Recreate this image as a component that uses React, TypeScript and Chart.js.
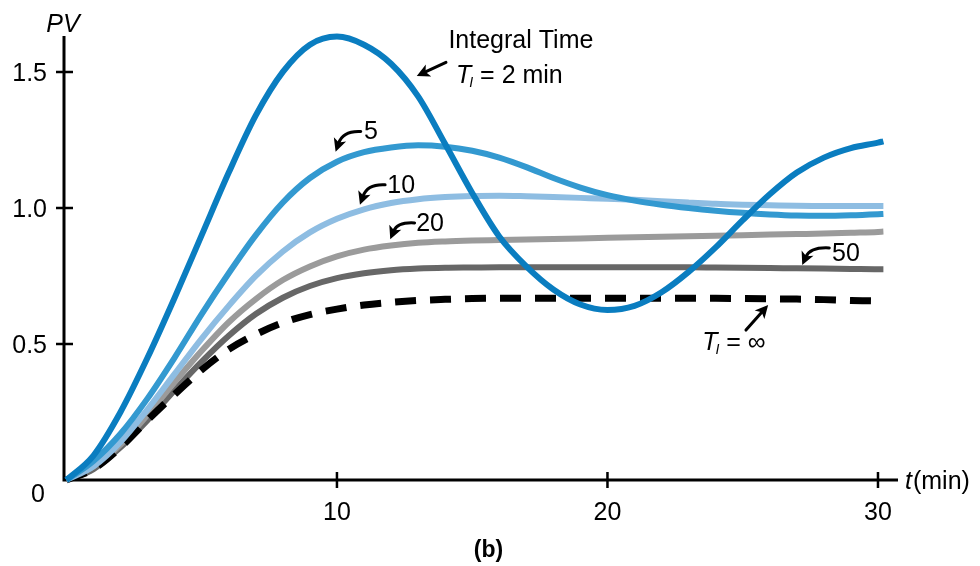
import React, { useEffect, useRef } from "react";
import { Chart, registerables } from "chart.js";

Chart.register(...registerables);

// ---- data ----
const times = [0, 1, 2, 3, 4, 5, 6, 7, 8, 9, 10, 11, 12, 13, 14, 15, 16, 17, 18, 19, 20, 21, 22, 23, 24, 25, 26, 27, 28, 29, 30, 30.2];

const pvTi2 = [0, 0.09, 0.25, 0.45, 0.67, 0.90, 1.13, 1.34, 1.50, 1.60, 1.63, 1.60, 1.53, 1.41, 1.235, 1.055, 0.895, 0.785, 0.70, 0.645, 0.625, 0.64, 0.69, 0.765, 0.855, 0.955, 1.05, 1.13, 1.185, 1.22, 1.24, 1.245];
const pvTi5 = [0, 0.07, 0.17, 0.30, 0.45, 0.61, 0.76, 0.90, 1.02, 1.11, 1.17, 1.205, 1.222, 1.23, 1.225, 1.21, 1.185, 1.15, 1.11, 1.075, 1.047, 1.027, 1.012, 1.0, 0.99, 0.982, 0.976, 0.972, 0.971, 0.973, 0.977, 0.978];
const pvTi10 = [0, 0.05, 0.14, 0.26, 0.39, 0.52, 0.64, 0.75, 0.84, 0.91, 0.96, 0.995, 1.018, 1.032, 1.04, 1.044, 1.045, 1.043, 1.04, 1.037, 1.034, 1.03, 1.025, 1.02, 1.015, 1.012, 1.01, 1.008, 1.007, 1.007, 1.007, 1.007];
const pvTi20 = [0, 0.05, 0.13, 0.24, 0.36, 0.475, 0.58, 0.665, 0.735, 0.785, 0.822, 0.847, 0.862, 0.872, 0.877, 0.88, 0.882, 0.884, 0.886, 0.888, 0.89, 0.892, 0.894, 0.896, 0.898, 0.9, 0.902, 0.904, 0.906, 0.909, 0.912, 0.913];
const pvTi50 = [0, 0.04, 0.12, 0.22, 0.33, 0.435, 0.53, 0.61, 0.67, 0.713, 0.742, 0.76, 0.771, 0.777, 0.78, 0.781, 0.782, 0.782, 0.782, 0.782, 0.782, 0.782, 0.782, 0.782, 0.781, 0.78, 0.779, 0.778, 0.777, 0.776, 0.775, 0.775];
const pvTiInf = [0, 0.04, 0.12, 0.22, 0.315, 0.405, 0.48, 0.535, 0.578, 0.608, 0.628, 0.643, 0.653, 0.66, 0.664, 0.667, 0.668, 0.668, 0.668, 0.668, 0.668, 0.668, 0.668, 0.668, 0.668, 0.667, 0.666, 0.665, 0.663, 0.66, 0.658, 0.657];

const xTicks = [10, 20, 30];
const xTickLabels = ["10", "20", "30"];
const yTicks = [0.5, 1.0, 1.5];
const yTickLabels = ["0.5", "1.0", "1.5"];

const FONT = '"Liberation Sans", Arial, Helvetica, sans-serif';
const FS = 25;

function pts(values: number[]) {
  return values.map((v, i) => ({ x: times[i], y: v }));
}

function head(ctx: CanvasRenderingContext2D, x: number, y: number, ang: number) {
  const len = 13;
  const half = 6.5;
  ctx.save();
  ctx.translate(x, y);
  ctx.rotate(ang);
  ctx.beginPath();
  ctx.moveTo(0, 0);
  ctx.lineTo(-len, -half);
  ctx.lineTo(-len * 0.75, 0);
  ctx.lineTo(-len, half);
  ctx.closePath();
  ctx.fill();
  ctx.restore();
}

function straightArrow(ctx: CanvasRenderingContext2D, x0: number, y0: number, x1: number, y1: number) {
  const ang = Math.atan2(y1 - y0, x1 - x0);
  ctx.beginPath();
  ctx.moveTo(x0, y0);
  ctx.lineTo(x1 - Math.cos(ang) * 9, y1 - Math.sin(ang) * 9);
  ctx.stroke();
  head(ctx, x1, y1, ang);
}

function curvedArrow(ctx: CanvasRenderingContext2D, x0: number, y0: number, x1: number, y1: number) {
  const cx = x1 + (x0 - x1) * 0.3;
  const cy = y0 - 1;
  const ang = Math.atan2(y1 - cy, x1 - cx);
  const ex = x1 - Math.cos(ang) * 9;
  const ey = y1 - Math.sin(ang) * 9;
  ctx.beginPath();
  ctx.moveTo(x0, y0);
  ctx.quadraticCurveTo(cx, cy, ex, ey);
  ctx.stroke();
  head(ctx, x1, y1, ang);
}

function tSub(ctx: CanvasRenderingContext2D, x: number, y: number, rest: string) {
  ctx.textAlign = "left";
  ctx.font = `italic ${FS}px ${FONT}`;
  ctx.fillText("T", x, y);
  let cx = x + ctx.measureText("T").width - 2;
  ctx.font = `italic 14px ${FONT}`;
  ctx.fillText("I", cx, y + 4);
  cx += ctx.measureText("I").width;
  ctx.font = `${FS}px ${FONT}`;
  ctx.fillText(rest, cx, y);
}

const decor = {
  id: "decor",
  beforeDatasetsDraw(chart: any) {
    const ctx: CanvasRenderingContext2D = chart.ctx;
    const { left, right, top, bottom } = chart.chartArea;
    const xs = chart.scales.x;
    const ys = chart.scales.y;
    ctx.save();
    ctx.strokeStyle = "#000";
    ctx.lineWidth = 3;
    ctx.lineCap = "butt";
    ctx.beginPath();
    ctx.moveTo(left, top);
    ctx.lineTo(left, bottom + 1.5);
    ctx.moveTo(left - 1.5, bottom);
    ctx.lineTo(right, bottom);
    ctx.stroke();
    ctx.lineWidth = 2.5;
    ctx.beginPath();
    xTicks.forEach((t) => {
      const x = xs.getPixelForValue(t);
      ctx.moveTo(x, bottom - 8);
      ctx.lineTo(x, bottom + 8);
    });
    yTicks.forEach((v) => {
      const y = ys.getPixelForValue(v);
      ctx.moveTo(left - 8, y);
      ctx.lineTo(left + 9, y);
    });
    ctx.stroke();
    ctx.restore();
  },
  afterDraw(chart: any) {
    const ctx: CanvasRenderingContext2D = chart.ctx;
    const { left, right, top, bottom } = chart.chartArea;
    const xs = chart.scales.x;
    const ys = chart.scales.y;
    const X = (t: number) => xs.getPixelForValue(t);
    const Y = (v: number) => ys.getPixelForValue(v);
    ctx.save();
    ctx.fillStyle = "#000";
    ctx.strokeStyle = "#000";
    ctx.font = `${FS}px ${FONT}`;
    ctx.textBaseline = "alphabetic";

    // tick labels
    ctx.textAlign = "center";
    xTicks.forEach((t, i) => ctx.fillText(xTickLabels[i], X(t), bottom + 40));
    ctx.textAlign = "right";
    yTicks.forEach((v, i) => ctx.fillText(yTickLabels[i], left - 17, Y(v) + 9));
    ctx.fillText("0", left - 19, bottom + 22);

    // axis titles
    ctx.textAlign = "center";
    ctx.font = `italic ${FS}px ${FONT}`;
    ctx.fillText("PV", left - 1, top - 4);
    ctx.textAlign = "left";
    ctx.fillText("t", right + 7, bottom + 9);
    const tw = ctx.measureText("t").width;
    ctx.font = `${FS}px ${FONT}`;
    ctx.fillText("(min)", right + 7 + tw + 1, bottom + 9);

    // caption
    ctx.textAlign = "center";
    ctx.font = `bold 23px ${FONT}`;
    ctx.fillText("(b)", X(15.6), bottom + 77);

    // Integral time annotation
    ctx.font = `${FS}px ${FONT}`;
    ctx.fillText("Integral Time", X(16.8), Y(1.588));
    tSub(ctx, X(14.4), Y(1.46), " = 2 min");

    ctx.lineWidth = 3;
    ctx.lineCap = "round";
    straightArrow(ctx, X(14.03), Y(1.535), X(12.95), Y(1.485));

    // curve labels
    ctx.font = `${FS}px ${FONT}`;
    ctx.textAlign = "left";
    ctx.fillText("5", X(11.0), Y(1.254));
    curvedArrow(ctx, X(10.88), Y(1.281), X(9.95), Y(1.207));
    ctx.fillText("10", X(11.86), Y(1.055));
    curvedArrow(ctx, X(11.78), Y(1.085), X(10.85), Y(1.012));
    ctx.fillText("20", X(12.93), Y(0.915));
    curvedArrow(ctx, X(12.87), Y(0.945), X(11.97), Y(0.885));
    ctx.fillText("50", X(28.3), Y(0.805));
    curvedArrow(ctx, X(28.2), Y(0.853), X(27.2), Y(0.79));

    // T_I = infinity
    tSub(ctx, X(23.5), Y(0.478), " = ∞");
    straightArrow(ctx, X(25.12), Y(0.551), X(25.94), Y(0.643));

    ctx.restore();
  },
};

export default function App() {
  const ref = useRef<HTMLCanvasElement | null>(null);
  useEffect(() => {
    if (!ref.current) return;
    const common = { pointRadius: 0, fill: false, cubicInterpolationMode: "monotone" as const, clip: false as any, borderCapStyle: "butt" as const };
    const chart = new Chart(ref.current, {
      type: "line",
      data: {
        datasets: [
          { ...common, label: "TI=2", data: pts(pvTi2), borderColor: "#0a7dc0", borderWidth: 6 },
          { ...common, label: "TI=5", data: pts(pvTi5), borderColor: "#3399d0", borderWidth: 6 },
          { ...common, label: "TI=10", data: pts(pvTi10), borderColor: "#8ebde2", borderWidth: 6 },
          { ...common, label: "TI=inf", data: pts(pvTiInf), borderColor: "#000000", borderWidth: 7, borderDash: [21, 14] },
          { ...common, label: "TI=20", data: pts(pvTi20), borderColor: "#9b9b9b", borderWidth: 6 },
          { ...common, label: "TI=50", data: pts(pvTi50), borderColor: "#676767", borderWidth: 6 },
        ],
      },
      options: {
        responsive: false,
        animation: false,
        layout: { padding: { left: 64, right: 82, top: 36, bottom: 86 } },
        plugins: { legend: { display: false }, tooltip: { enabled: false } },
        scales: {
          x: { type: "linear", min: -0.09, max: 30.74, display: false },
          y: { type: "linear", min: 0, max: 1.632, display: false },
        },
      },
      plugins: [decor],
    });
    return () => chart.destroy();
  }, []);
  return (
    <div style={{ position: "absolute", left: 0, top: 0, width: 980, height: 566, background: "#fff" }}>
      <canvas ref={ref} width={980} height={566} style={{ display: "block" }} />
    </div>
  );
}
